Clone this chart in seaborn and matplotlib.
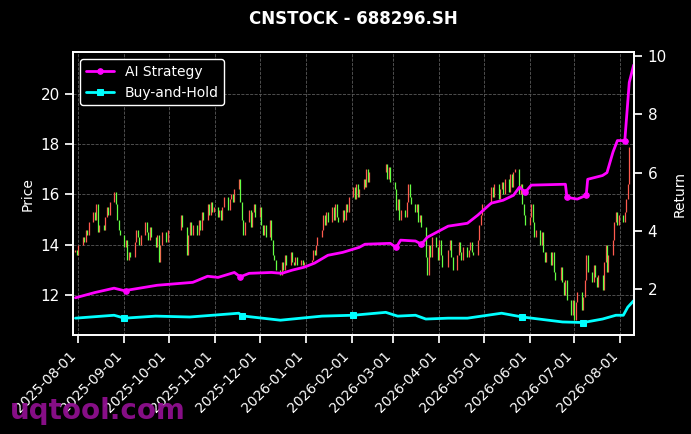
import pandas as pd
import numpy as np
import matplotlib
matplotlib.use("Agg")
import matplotlib.pyplot as plt
import matplotlib.dates as mdates
import seaborn as sns

# === DATOS ===
TITLE = "CNSTOCK - 688296.SH"
START, END = "2025-07-30", "2026-08-10"
HOLIDAYS = ["2025-10-01", "2025-10-02", "2025-10-03", "2025-10-06", "2025-10-07",
            "2025-10-08", "2026-01-01", "2026-01-02", "2026-02-16", "2026-02-17",
            "2026-02-18", "2026-02-19", "2026-02-20", "2026-02-23", "2026-04-06",
            "2026-05-01", "2026-05-04", "2026-05-05", "2026-06-19"]
FIRST_OPEN = 13.7

# cierres diarios
close = [
    13.8, 13.6,                                                    # jul
    14.0, 14.3, 14.1, 14.6, 14.4, 14.9, 15.3, 15.0, 15.6, 14.5,    # ago
    14.8, 14.6, 15.1, 15.5, 15.2, 15.7, 16.1, 15.6, 15.0, 14.6, 14.4,
    13.9, 14.2, 13.4, 13.7, 13.5, 14.1, 14.6, 14.3, 14.0, 14.4,    # sep
    14.9, 14.5, 14.2, 14.7, 14.3, 13.9, 14.4, 13.3, 14.0, 14.5, 14.1, 14.6,
    15.2, 14.7, 13.6, 14.4, 14.9, 14.4, 14.8, 14.4, 15.0, 14.6,    # oct
    15.3, 15.0, 15.6, 15.2, 15.7, 15.3, 15.5,
    15.1, 15.4, 15.0, 15.5, 15.9, 15.4, 15.8, 16.0, 15.7, 16.2,    # nov
    16.6, 15.7, 15.0, 14.4, 14.9, 15.4, 14.7, 15.3, 15.6, 15.1,
    15.5, 14.8, 14.4, 14.8, 14.3, 15.0, 14.2, 13.6, 13.4, 13.0,    # dic
    12.8, 13.3, 13.0, 13.6, 13.2, 13.7, 13.3, 13.2, 13.5, 13.2, 13.4, 13.2, 13.3,
    13.4, 13.8, 13.6, 14.0, 14.3, 14.6, 15.2, 14.8, 15.3, 14.9,    # ene
    15.5, 15.0, 15.6, 15.1, 14.9, 15.4, 15.0, 15.6, 15.3, 15.9,
    16.3, 15.8, 16.4, 15.9, 16.2, 16.6, 16.3, 17.0, 16.5, 16.9,    # feb
    17.2, 16.6, 17.1, 16.5,
    16.2, 15.4, 15.8, 15.0, 15.4, 15.1, 15.7, 16.4, 15.9, 15.6,    # mar
    15.3, 15.6, 14.9, 15.2, 14.7, 13.5, 12.8, 14.0, 13.5, 14.3, 13.9, 13.4,
    14.2, 13.6, 13.1, 13.8, 14.2, 13.5, 13.0, 13.6, 14.1, 13.7,    # abr
    13.4, 13.9, 13.5, 13.8, 14.1, 13.7, 13.6, 14.2, 14.8, 15.2, 15.6,
    16.3, 15.9, 16.4, 15.8, 16.2, 16.5, 16.0, 16.6, 16.1, 16.8,    # may
    16.3, 16.9, 17.0, 16.0, 16.4, 15.6, 15.2, 14.8,
    15.1, 15.6, 14.9, 14.3, 14.6, 14.0, 14.5, 13.7, 13.3, 13.7,    # jun
    13.2, 13.7, 12.9, 12.6, 13.1, 12.5, 12.0, 12.6, 11.8, 11.2, 11.8,
    11.0, 11.7, 12.1, 11.4, 11.9, 12.6, 13.6, 12.9, 12.5, 13.2,    # jul
    12.7, 12.3, 12.8, 12.2, 13.3, 14.0, 12.9, 13.6, 14.2, 14.9, 15.3, 14.8, 15.2,
    14.9, 15.3, 15.8, 16.4, 17.9, 19.5,                            # ago
]

ai_dates = ["2025-07-30", "2025-08-12", "2025-08-25", "2025-09-02", "2025-09-04",
            "2025-09-23", "2025-10-17", "2025-10-27", "2025-11-03", "2025-11-14",
            "2025-11-18", "2025-11-24", "2025-12-09", "2025-12-16", "2025-12-23",
            "2025-12-31", "2026-01-07", "2026-01-16", "2026-01-26", "2026-02-06",
            "2026-02-10", "2026-02-27", "2026-03-03", "2026-03-06", "2026-03-16",
            "2026-03-20", "2026-03-24", "2026-04-07", "2026-04-20", "2026-04-27",
            "2026-05-06", "2026-05-14", "2026-05-21", "2026-05-25", "2026-05-29",
            "2026-06-02", "2026-06-25", "2026-06-26", "2026-07-03", "2026-07-09",
            "2026-07-10", "2026-07-20", "2026-07-23", "2026-07-27", "2026-07-30",
            "2026-08-04", "2026-08-07", "2026-08-10"]
ai_return = [1.70, 1.88, 2.03, 1.93, 1.97, 2.13, 2.23, 2.44, 2.40, 2.57,
             2.42, 2.54, 2.57, 2.54, 2.65, 2.75, 2.89, 3.16, 3.26, 3.43,
             3.54, 3.57, 3.43, 3.68, 3.65, 3.54, 3.78, 4.16, 4.26, 4.54,
             4.95, 5.05, 5.22, 5.50, 5.33, 5.57, 5.60, 5.15, 5.09, 5.22,
             5.77, 5.90, 6.00, 6.70, 7.10, 7.10, 9.10, 9.70]

bh_dates = ["2025-07-30", "2025-08-25", "2025-09-01", "2025-09-22", "2025-10-15",
            "2025-11-17", "2025-11-19", "2025-12-15", "2025-12-23", "2026-01-12",
            "2026-02-02", "2026-02-24", "2026-03-04", "2026-03-16", "2026-03-23",
            "2026-04-07", "2026-04-20", "2026-05-13", "2026-05-27", "2026-06-23",
            "2026-07-07", "2026-07-20", "2026-07-29", "2026-08-03", "2026-08-06",
            "2026-08-10"]
bh_return = [1.00, 1.10, 1.00, 1.07, 1.04, 1.17, 1.08, 0.93, 0.97, 1.07,
             1.10, 1.20, 1.07, 1.10, 0.97, 1.00, 1.00, 1.17, 1.04, 0.87,
             0.85, 0.97, 1.10, 1.10, 1.38, 1.60]

# === PREPARACION ===
days = pd.bdate_range(START, END)
days = days[~days.isin(pd.to_datetime(HOLIDAYS))]
n = min(len(days), len(close))
candles = pd.DataFrame({"date": days[:n], "close": close[:n]})
candles["open"] = candles["close"].shift(1).fillna(FIRST_OPEN)
up = candles["close"] >= candles["open"]

ai = pd.DataFrame({"date": pd.to_datetime(ai_dates), "ret": ai_return})
bh = pd.DataFrame({"date": pd.to_datetime(bh_dates), "ret": bh_return})

# === GRAFICO ===
sns.set_theme(style="dark", rc={
    "figure.facecolor": "black", "axes.facecolor": "black",
    "axes.edgecolor": "white", "axes.labelcolor": "white",
    "xtick.color": "white", "ytick.color": "white", "text.color": "white",
    "xtick.bottom": True, "ytick.left": True,
})
plt.rcParams["font.family"] = ["DejaVu Sans"]

fig, ax = plt.subplots(figsize=(6.91, 4.34), dpi=100)
fig.subplots_adjust(left=0.106, right=0.918, top=0.880, bottom=0.228)

ax.vlines(candles.loc[up, "date"], candles.loc[up, "open"], candles.loc[up, "close"],
          color="#ff5a4f", linewidth=0.9)
ax.vlines(candles.loc[~up, "date"], candles.loc[~up, "open"], candles.loc[~up, "close"],
          color="#66ff44", linewidth=0.9)

ax.set_ylim(10.4, 21.67)
ax.set_yticks([12, 14, 16, 18, 20])
ax.set_ylabel("Price", fontsize=10)
ax.grid(True, color="#5a5a5a", linestyle="--", linewidth=0.6)
ax.set_xlim(pd.Timestamp("2025-07-28 12:00"), pd.Timestamp("2026-08-10 10:00"))
ax.xaxis.set_major_locator(mdates.MonthLocator())
ax.xaxis.set_major_formatter(mdates.DateFormatter("%Y-%m-%d"))
plt.setp(ax.get_xticklabels(), rotation=45, ha="right", fontsize=10)
ax.set_xlabel("")
for s in ax.spines.values():
    s.set_color("white")

ax2 = ax.twinx()
sns.lineplot(data=ai, x="date", y="ret", ax=ax2, color="#ff00ff", linewidth=2,
             marker="o", markersize=4, markeredgecolor="#ff00ff",
             markevery=[3, 10, 22, 25, 34, 37, 39, 45], label="AI Strategy")
sns.lineplot(data=bh, x="date", y="ret", ax=ax2, color="#00ffff", linewidth=2,
             marker="s", markersize=4, markeredgecolor="#00ffff",
             markevery=[2, 6, 10, 18, 20], label="Buy-and-Hold")
ax2.set_ylim(0.42, 10.14)
ax2.set_yticks([2, 4, 6, 8, 10])
ax2.set_ylabel("Return", fontsize=10)
ax2.tick_params(axis="y", right=True, colors="white")
ax2.grid(False)
for s in ax2.spines.values():
    s.set_color("white")

leg = ax2.legend(loc="upper left", facecolor="black", edgecolor="white",
                 fontsize=10, framealpha=1)
for t in leg.get_texts():
    t.set_color("white")

ax.set_title(TITLE, fontsize=12, fontweight="bold", color="white", pad=20)
fig.text(0.014, 0.035, "uqtool.com", color="#8e0f8e", fontsize=20,
         fontweight="bold", alpha=0.95)

fig.savefig("out.png", dpi=100, facecolor="black")
